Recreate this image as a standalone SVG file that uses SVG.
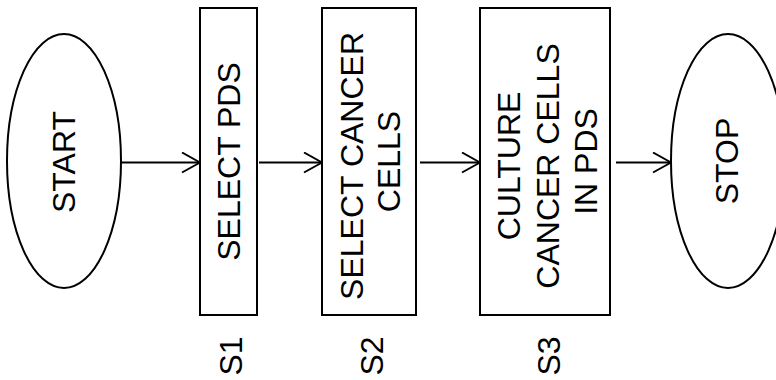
<svg xmlns="http://www.w3.org/2000/svg" width="776" height="380" viewBox="0 0 776 380">
  <defs>
    <style>
      .shape { fill: #ffffff; stroke: #000000; stroke-width: 2; }
      .conn { fill: none; stroke: #000000; stroke-width: 2; }
      .label { font-family: "Liberation Sans", Arial, sans-serif; font-size: 32px; fill: #000000; text-anchor: middle; }
    </style>
    <marker id="openArrow" viewBox="0 0 20 22" refX="19" refY="11" markerWidth="20" markerHeight="22" markerUnits="userSpaceOnUse" orient="auto">
      <path d="M1,1 L19,11 L1,21" fill="none" stroke="#000000" stroke-width="2"/>
    </marker>
  </defs>
  <rect width="776" height="380" fill="#ffffff"/>

  <g id="start">
    <ellipse class="shape" cx="64" cy="161" rx="57" ry="127"/>
    <text class="label" transform="translate(75,162) rotate(-90)">START</text>
  </g>

  <g id="s1">
    <rect class="shape" x="200" y="8" width="57" height="307"/>
    <text class="label" transform="translate(240,161.5) rotate(-90)">SELECT PDS</text>
  </g>

  <g id="s2">
    <rect class="shape" x="322" y="8" width="94" height="307"/>
    <text class="label" transform="translate(363,161.5) rotate(-90)">
      <tspan x="0" y="0">SELECT CANCER</tspan>
      <tspan x="0" y="37">CELLS</tspan>
    </text>
  </g>

  <g id="s3">
    <rect class="shape" x="480" y="8" width="130" height="307"/>
    <text class="label" transform="translate(520,161.5) rotate(-90)">
      <tspan x="0" y="0">CULTURE</tspan>
      <tspan x="0" y="38.5">CANCER CELLS</tspan>
      <tspan x="0" y="77">IN PDS</tspan>
    </text>
  </g>

  <g id="stop">
    <ellipse class="shape" cx="728" cy="161" rx="57" ry="127"/>
    <text class="label" transform="translate(738,161) rotate(-90)">STOP</text>
  </g>

  <g id="step-labels">
    <text class="label" transform="translate(242,356) rotate(-90)">S1</text>
    <text class="label" transform="translate(383,356) rotate(-90)">S2</text>
    <text class="label" transform="translate(560,356) rotate(-90)">S3</text>
  </g>

  <g id="connectors">
    <line class="conn" x1="121" y1="162.5" x2="200" y2="162.5" marker-end="url(#openArrow)"/>
    <line class="conn" x1="259" y1="162.5" x2="322" y2="162.5" marker-end="url(#openArrow)"/>
    <line class="conn" x1="420" y1="162.5" x2="480" y2="162.5" marker-end="url(#openArrow)"/>
    <line class="conn" x1="616" y1="162.5" x2="671" y2="162.5" marker-end="url(#openArrow)"/>
  </g>
</svg>
